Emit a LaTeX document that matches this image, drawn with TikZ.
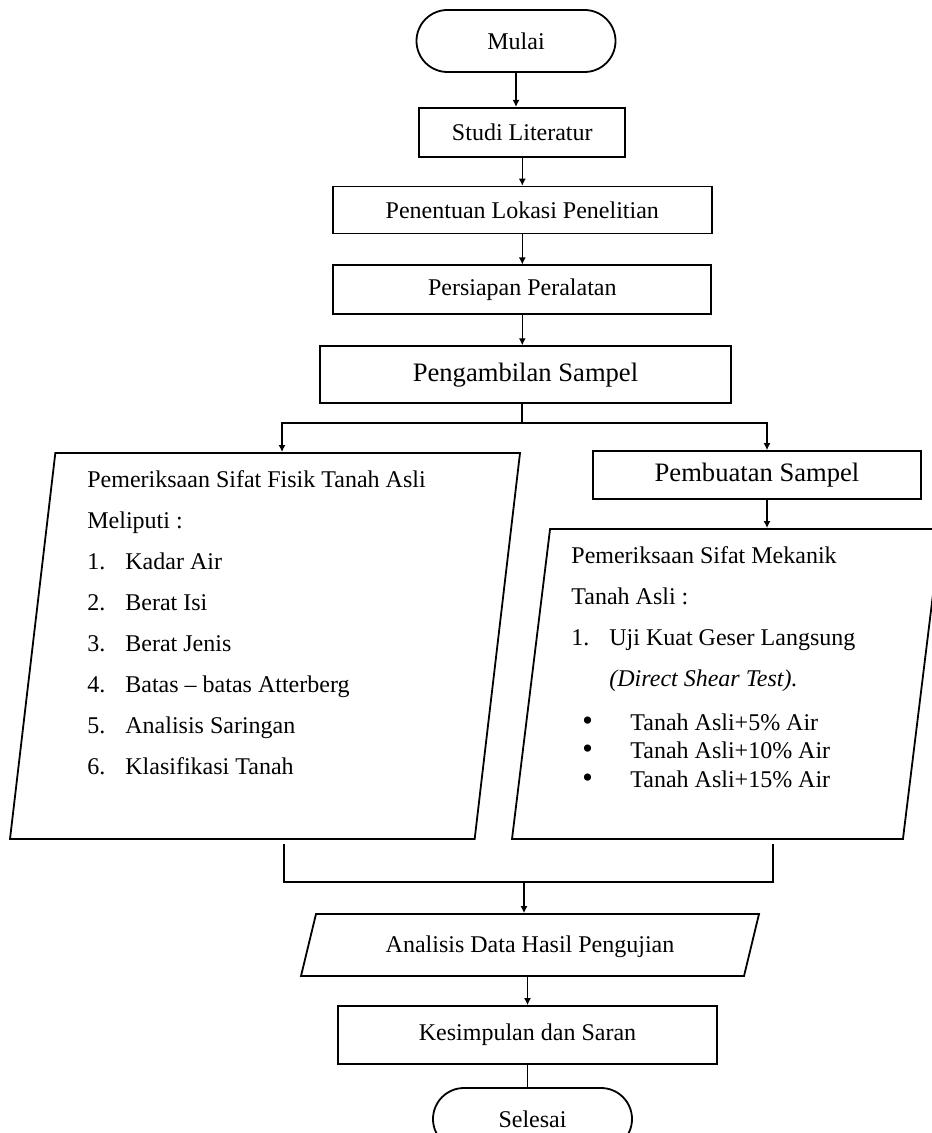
\documentclass[tikz,border=0pt]{standalone}
\usepackage{fontspec}
\setmainfont{Liberation Serif}
\usetikzlibrary{arrows.meta,positioning,calc,shapes.geometric}
\tikzset{
  kotak/.style={draw,line width=0.9pt,inner sep=0pt,align=center,font=\fontsize{12}{14}\selectfont},
  ujung/.style={draw,line width=0.9pt,rounded corners=15.5pt,minimum width=99.5pt,minimum height=31pt,
                inner sep=0pt,font=\fontsize{12}{14}\selectfont},
  jajar/.style={draw,line width=0.9pt,trapezium,trapezium stretches body=true,inner sep=1pt,
                font=\fontsize{12}{14}\selectfont},
  isi/.style={inner sep=0pt,align=left,anchor=north west,font=\fontsize{12}{20.5}\selectfont},
  panah/.style={-{Latex[length=3.5pt,width=3.5pt]},line width=0.6pt},
  garis/.style={line width=0.8pt},
}
\newcommand{\butir}[1]{\makebox[19pt][l]{#1}}
\newcommand{\titik}{\hspace*{5.5pt}\makebox[24pt][l]{\fontsize{15}{15}\selectfont\textbullet}}

\begin{document}
\begin{tikzpicture}[x=0.5pt,y=-0.5pt]
  \useasboundingbox (0,0) rectangle (931,1133);
  \node[ujung] (mulai) at (516,41) {Mulai};
  \node[kotak,minimum width=103pt,minimum height=24.5pt,below=17pt of mulai,xshift=3.15pt] (studi) {Studi Literatur};
  \node[kotak,minimum width=189.5pt,minimum height=23.5pt,below=14pt of studi] (lokasi) {Penentuan Lokasi Penelitian};
  \node[kotak,minimum width=189pt,minimum height=24.5pt,below=15pt of lokasi] (alat) {Persiapan Peralatan};
  \node[kotak,font=\fontsize{13.3}{16}\selectfont,minimum width=205.5pt,minimum height=28.5pt,
        below=15pt of alat,xshift=1.6pt] (sampel) {Pengambilan Sampel};
  \node[jajar,trapezium left angle=83.3,trapezium right angle=96.7,minimum width=255pt]
        (fisik) at (265,646) {\rule{0pt}{191pt}};
  \node[isi] (fisiktxt) at (87,470) {Pemeriksaan Sifat Fisik Tanah Asli\\ Meliputi :\\
        \butir{1.}Kadar Air\\ \butir{2.}Berat Isi\\ \butir{3.}Berat Jenis\\
        \butir{4.}Batas -- batas Atterberg\\ \butir{5.}Analisis Saringan\\ \butir{6.}Klasifikasi Tanah};
  \node[kotak,font=\fontsize{13.3}{16}\selectfont,minimum width=164pt,minimum height=24pt] (buat) at (757,475)
        {Pembuatan Sampel};
  \node[jajar,trapezium left angle=83,trapezium right angle=97,minimum width=214.5pt]
        (mekanik) at (726.5,684) {\rule{0pt}{153pt}};
  \node[isi] (mekaniktxt) at (571,546) {Pemeriksaan Sifat Mekanik\\ Tanah Asli :\\
        \butir{1.}Uji Kuat Geser Langsung\\ \butir{}\textit{(Direct Shear Test).}\\[1.5pt]
        \titik Tanah Asli+5\% Air\\[-6.25pt] \titik Tanah Asli+10\% Air\\[-6.25pt] \titik Tanah Asli+15\% Air};
  \node[jajar,trapezium left angle=76.4,trapezium right angle=103.6,minimum width=229pt,
        text height=18pt,text depth=11pt] (analisis) at (530,945) {Analisis Data Hasil Pengujian};
  \node[kotak,minimum width=189.5pt,minimum height=29pt] (kesimpulan) at (527.5,1035) {Kesimpulan dan Saran};
  \node[ujung] (selesai) at (532.5,1119) {Selesai};
  \coordinate (cabang) at (522,423);
  \coordinate (ki) at (282,423);
  \coordinate (ka) at (767,423);
  \coordinate (gki) at (284,844);
  \coordinate (gka) at (773,844);
  \coordinate (gab) at (524,882);
  \draw[panah] (mulai.south) -- (mulai.south |- studi.north);
  \draw[panah] (studi.south) -- (studi.south |- lokasi.north);
  \draw[panah] (lokasi.south) -- (lokasi.south |- alat.north);
  \draw[panah] (alat.south) -- (alat.south |- sampel.north);
  \draw[garis] (cabang |- sampel.south) -- (cabang);
  \draw[panah] (cabang) -| (ki |- fisik.north);
  \draw[panah] (cabang) -| (ka |- buat.north);
  \draw[panah] (ka |- buat.south) -- (ka |- mekanik.north);
  \draw[garis] (gki) |- (gka |- gab) -- (gka);
  \draw[panah] (gab) -- (gab |- analisis.north);
  \draw[panah] (kesimpulan.north |- analisis.south) -- (kesimpulan.north);
  \draw[garis] (kesimpulan.south) -- (kesimpulan.south |- selesai.north);
\end{tikzpicture}
\end{document}
